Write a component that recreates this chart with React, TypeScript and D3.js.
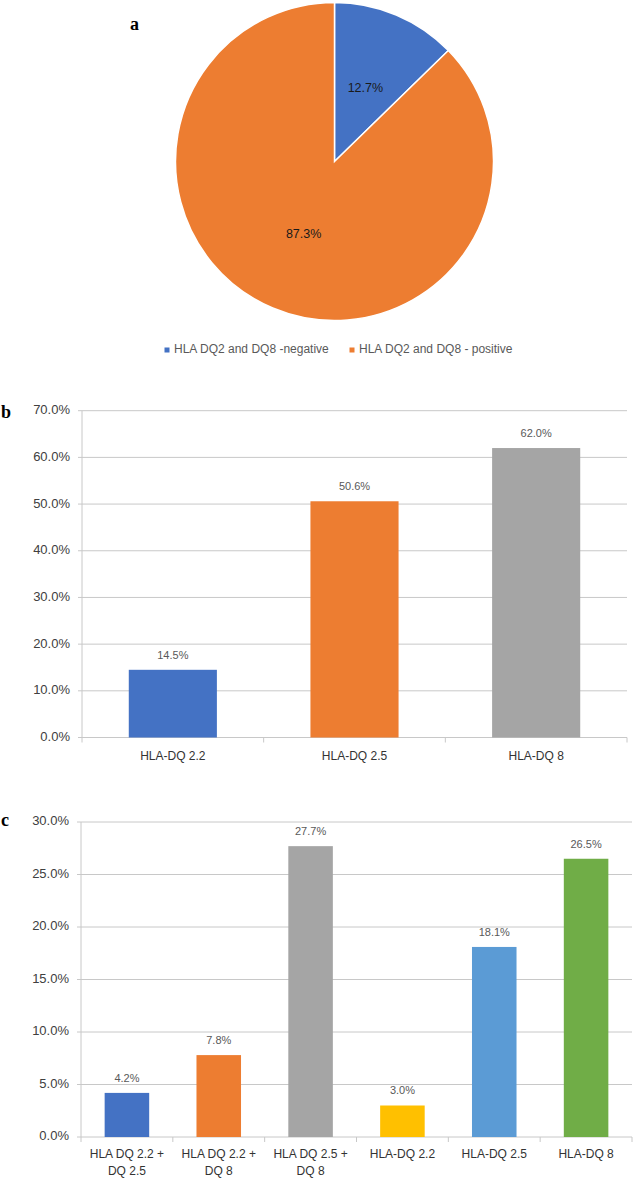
import React, { useEffect, useRef } from 'react';
import * as d3 from 'd3';

const pieLabels = ['HLA DQ2 and DQ8 -negative', 'HLA DQ2 and DQ8 - positive'];
const pieValues = [12.7, 87.3];
const pieColors = ['#4472C4', '#ED7D31'];

const bCategories = [['HLA-DQ 2.2'], ['HLA-DQ 2.5'], ['HLA-DQ 8']];
const bValues = [14.5, 50.6, 62.0];
const bColors = ['#4472C4', '#ED7D31', '#A5A5A5'];
const bTicks = [0, 10, 20, 30, 40, 50, 60, 70];

const cCategories = [
  ['HLA DQ 2.2 +', 'DQ 2.5'],
  ['HLA DQ 2.2 +', 'DQ 8'],
  ['HLA DQ 2.5 +', 'DQ 8'],
  ['HLA-DQ 2.2'],
  ['HLA-DQ 2.5'],
  ['HLA-DQ 8'],
];
const cValues = [4.2, 7.8, 27.7, 3.0, 18.1, 26.5];
const cColors = ['#4472C4', '#ED7D31', '#A5A5A5', '#FFC000', '#5B9BD5', '#70AD47'];
const cTicks = [0, 5, 10, 15, 20, 25, 30];

const FONT = "'Liberation Sans', Arial, sans-serif";
const SERIF = "'Liberation Serif', 'Times New Roman', serif";
const GRID = '#c8c8c8';

const drawBars = (svg, o) => {
  const g = svg.append('g');
  const x = d3.scaleBand().domain(o.cats.map((_, i) => i)).range([o.left, o.right]).paddingInner(0.515).paddingOuter(0.2575);
  const y = d3.scaleLinear().domain([0, o.max]).range([o.bottom, o.top]);

  // gridlines + y tick labels
  o.ticks.forEach((t) => {
    g.append('line')
      .attr('x1', o.left - 4).attr('x2', o.right)
      .attr('y1', y(t)).attr('y2', y(t))
      .attr('stroke', GRID).attr('stroke-width', 1);
    g.append('text')
      .attr('x', o.left - 12).attr('y', y(t))
      .attr('text-anchor', 'end').attr('dominant-baseline', 'middle')
      .attr('font-family', FONT).attr('font-size', 13).attr('fill', '#404040')
      .text(t.toFixed(1) + '%');
  });
  g.append('line')
    .attr('x1', o.left).attr('x2', o.left)
    .attr('y1', y(o.max)).attr('y2', o.bottom + 5)
    .attr('stroke', GRID);

  // category tick marks
  const step = x.step();
  o.cats.forEach((_, i) => {
    const xx = o.left + step * (i + 1);
    g.append('line').attr('x1', xx).attr('x2', xx).attr('y1', o.bottom).attr('y2', o.bottom + 5).attr('stroke', GRID);
  });

  g.selectAll('rect.bar')
    .data(o.values)
    .enter()
    .append('rect')
    .attr('x', (_, i) => x(i))
    .attr('y', (d) => y(d))
    .attr('width', x.bandwidth())
    .attr('height', (d) => o.bottom - y(d))
    .attr('fill', (_, i) => o.colors[i]);

  g.selectAll('text.val')
    .data(o.values)
    .enter()
    .append('text')
    .attr('x', (_, i) => x(i) + x.bandwidth() / 2)
    .attr('y', (d) => y(d) - 14)
    .attr('text-anchor', 'middle').attr('dominant-baseline', 'middle')
    .attr('font-family', FONT).attr('font-size', 11).attr('fill', '#595959')
    .text((d) => d.toFixed(1) + '%');

  o.cats.forEach((lines, i) => {
    lines.forEach((ln, j) => {
      g.append('text')
        .attr('x', x(i) + x.bandwidth() / 2)
        .attr('y', o.bottom + o.labelOffset + j * 17)
        .attr('text-anchor', 'middle').attr('dominant-baseline', 'middle')
        .attr('font-family', FONT).attr('font-size', 12).attr('fill', '#333')
        .text(ln);
    });
  });

  g.append('text')
    .attr('x', o.tagX).attr('y', o.tagY)
    .attr('font-family', SERIF).attr('font-weight', 'bold').attr('font-size', 18)
    .text(o.tag);
};

const App = () => {
  const ref = useRef(null);

  useEffect(() => {
    const svg = d3.select(ref.current);
    svg.selectAll('*').remove();

    // panel a: pie
    const cx = 334.5;
    const cy = 161.5;
    const r = 159;
    const arcs = d3.pie().sort(null)(pieValues);
    const arc = d3.arc().innerRadius(0).outerRadius(r);
    const pg = svg.append('g').attr('transform', `translate(${cx},${cy})`);
    pg.selectAll('path')
      .data(arcs)
      .enter()
      .append('path')
      .attr('d', arc)
      .attr('fill', (_, i) => pieColors[i])
      .attr('stroke', '#fff')
      .attr('stroke-width', 1.5);
    pg.selectAll('text')
      .data(arcs)
      .enter()
      .append('text')
      .attr('transform', (d) => `translate(${arc.centroid(d)})`)
      .attr('text-anchor', 'middle').attr('dominant-baseline', 'middle')
      .attr('font-family', FONT).attr('font-size', 12.5).attr('fill', '#1a1a1a')
      .text((d) => d.data.toFixed(1) + '%');

    svg.append('text')
      .attr('x', 130).attr('y', 30)
      .attr('font-family', SERIF).attr('font-weight', 'bold').attr('font-size', 18)
      .text('a');

    // legend
    const legX = [167, 352];
    pieLabels.forEach((lab, i) => {
      svg.append('rect').attr('x', legX[i] - 2.5).attr('y', 347.5).attr('width', 5).attr('height', 5).attr('fill', pieColors[i]);
      svg.append('text')
        .attr('x', legX[i] + 7).attr('y', 350)
        .attr('dominant-baseline', 'middle')
        .attr('font-family', FONT).attr('font-size', 12).attr('fill', '#595959')
        .text(lab);
    });

    drawBars(svg, {
      cats: bCategories, values: bValues, colors: bColors, ticks: bTicks, max: 70,
      left: 82, right: 627, top: 410.7, bottom: 737.5, labelOffset: 19,
      tag: 'b', tagX: 1, tagY: 418,
    });

    drawBars(svg, {
      cats: cCategories, values: cValues, colors: cColors, ticks: cTicks, max: 30,
      left: 81, right: 632, top: 822, bottom: 1137, labelOffset: 18,
      tag: 'c', tagX: 1, tagY: 826,
    });
  }, []);

  return (
    <svg
      ref={ref}
      width={634}
      height={1182}
      style={{ position: 'absolute', left: 0, top: 0, background: '#fff' }}
    />
  );
};

export default App;
